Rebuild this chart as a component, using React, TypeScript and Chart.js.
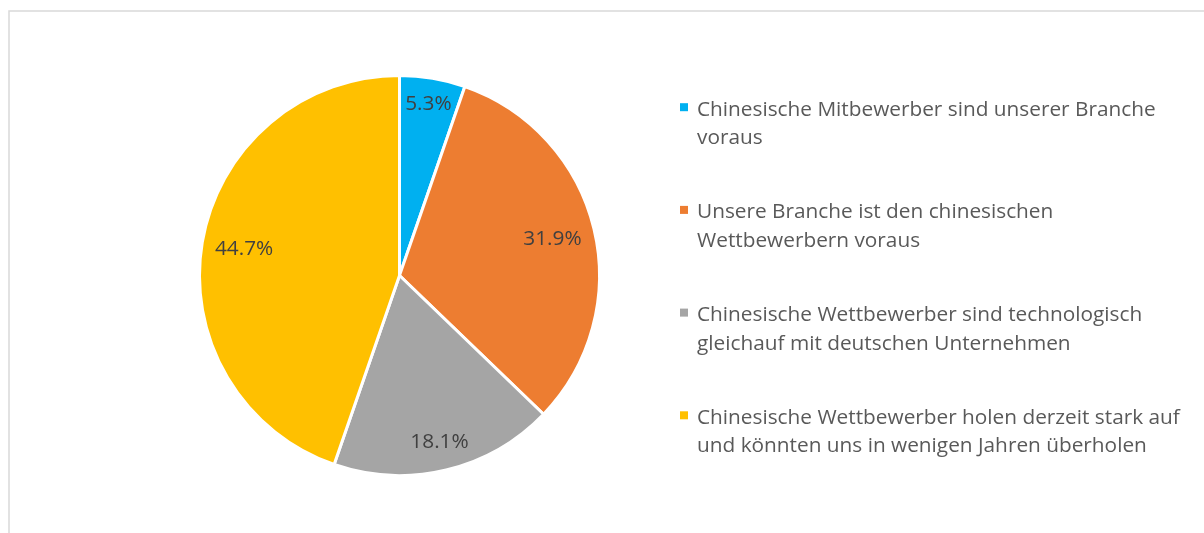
import React, { useEffect, useRef } from "react";
import { Chart, registerables } from "chart.js";

Chart.register(...registerables);

const categories: string[][] = [
  ["Chinesische Mitbewerber sind unserer Branche", "voraus"],
  ["Unsere Branche ist den chinesischen", "Wettbewerbern voraus"],
  ["Chinesische Wettbewerber sind technologisch", "gleichauf mit deutschen Unternehmen"],
  ["Chinesische Wettbewerber holen derzeit stark auf", "und könnten uns in wenigen Jahren überholen"],
];
const values: number[] = [5.3, 31.9, 18.1, 44.7];
const colors: string[] = ["#00B0F0", "#ED7D31", "#A5A5A5", "#FFC000"];

const FONT = '"Open Sans", "DejaVu Sans", sans-serif';
const FONT_SIZE = 20.8;

const framePlugin = {
  id: "frame",
  beforeDraw(chart: any) {
    const ctx = chart.ctx;
    ctx.save();
    ctx.strokeStyle = "#d9d9d9";
    ctx.lineWidth = 1.5;
    ctx.strokeRect(9, 11, 1300, 600);
    ctx.restore();
  },
};

const labelsPlugin = {
  id: "sliceLabels",
  afterDatasetsDraw(chart: any) {
    const ctx = chart.ctx;
    const meta = chart.getDatasetMeta(0);
    ctx.save();
    ctx.font = `${FONT_SIZE}px ${FONT}`;
    ctx.fillStyle = "#404040";
    ctx.textAlign = "center";
    ctx.textBaseline = "middle";
    meta.data.forEach((arc: any, i: number) => {
      const { x, y, startAngle, endAngle, outerRadius } = arc.getProps(
        ["x", "y", "startAngle", "endAngle", "outerRadius"],
        true
      );
      const mid = (startAngle + endAngle) / 2;
      const text = values[i].toFixed(1) + "%";
      const w = ctx.measureText(text).width;
      const h = 20;
      const cx = Math.cos(mid);
      const cy = Math.sin(mid);
      const extent = Math.abs(cx) * (w / 2) + Math.abs(cy) * (h / 2);
      const d = outerRadius - 12 - extent;
      ctx.fillText(text, x + cx * d, y + cy * d);
    });
    ctx.restore();
  },
};

const legendPlugin = {
  id: "sideLegend",
  afterDraw(chart: any) {
    const ctx = chart.ctx;
    const meta = chart.getDatasetMeta(0);
    const cy = meta.data[0].y;
    const x0 = 680;
    const itemGap = 102.7;
    const lineGap = 28.7;
    const firstBaseline = cy - 160;
    ctx.save();
    ctx.font = `${FONT_SIZE}px ${FONT}`;
    ctx.textAlign = "left";
    ctx.textBaseline = "alphabetic";
    categories.forEach((lines, i) => {
      const base = firstBaseline + i * itemGap;
      ctx.fillStyle = colors[i];
      ctx.fillRect(x0, base - 12.3, 8, 8);
      ctx.fillStyle = "#595959";
      lines.forEach((ln, j) => {
        ctx.fillText(ln, x0 + 17, base + j * lineGap);
      });
    });
    ctx.restore();
  },
};

export default function App() {
  const ref = useRef<HTMLCanvasElement | null>(null);
  useEffect(() => {
    if (!ref.current) return;
    const chart = new Chart(ref.current, {
      type: "pie",
      data: {
        labels: categories.map((l) => l.join(" ")),
        datasets: [
          {
            data: values,
            backgroundColor: colors,
            borderColor: "#ffffff",
            borderWidth: 3,
            hoverOffset: 0,
          },
        ],
      },
      options: {
        animation: false,
        responsive: false,
        devicePixelRatio: 1,
        layout: { padding: { left: 198, right: 603, top: 74, bottom: 56 } },
        plugins: {
          legend: { display: false },
          tooltip: { enabled: false },
        },
        events: [],
      },
      plugins: [framePlugin, labelsPlugin, legendPlugin],
    });
    return () => chart.destroy();
  }, []);
  return (
    <div style={{ position: "absolute", left: 0, top: 0, width: 1204, height: 533, background: "#fff" }}>
      <canvas ref={ref} width={1204} height={533} style={{ display: "block" }} />
    </div>
  );
}
